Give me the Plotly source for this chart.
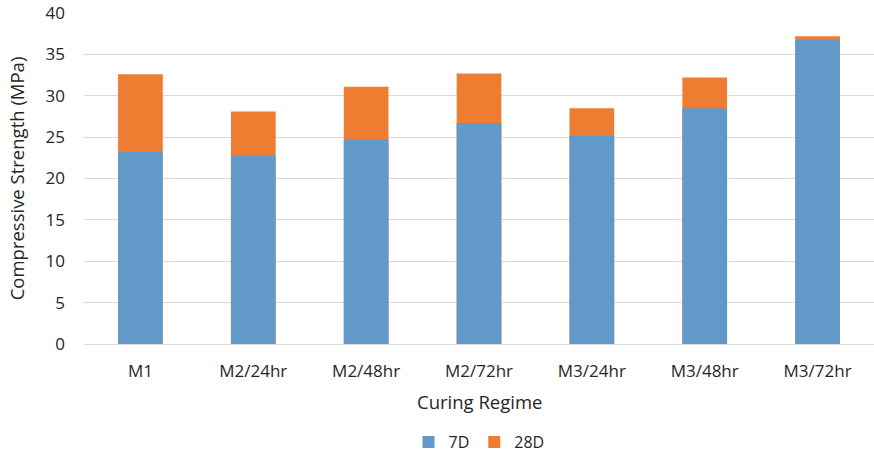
import plotly.graph_objects as go

categories = ["M1", "M2/24hr", "M2/48hr", "M2/72hr", "M3/24hr", "M3/48hr", "M3/72hr"]
strength_7d = [23.2, 22.8, 24.7, 26.7, 25.2, 28.5, 36.8]
strength_28d = [32.6, 28.1, 31.1, 32.7, 28.5, 32.2, 37.2]
y_ticks = [0, 5, 10, 15, 20, 25, 30, 35, 40]

FONT = "Open Sans"
fig = go.Figure()
fig.add_trace(go.Bar(x=categories, y=strength_28d, name="28D",
                     marker=dict(color="#ED7D31", line=dict(width=0))))
fig.add_trace(go.Bar(x=categories, y=strength_7d, name="7D",
                     marker=dict(color="#6299CB", line=dict(width=0))))

fig.update_layout(
    width=874, height=452,
    margin=dict(l=84, r=0, t=13, b=108, autoexpand=False),
    paper_bgcolor="white", plot_bgcolor="white",
    barmode="overlay", bargap=0.604,
    font=dict(family=FONT, size=16, color="#262626"),
    showlegend=True,
    legend=dict(orientation="h", traceorder="reversed", x=0.5, xanchor="center",
                y=-0.296, yanchor="middle", font=dict(size=16, color="#262626"),
                itemwidth=30, tracegroupgap=0),
    xaxis=dict(showgrid=False, showline=True, linecolor="#D9D9D9", linewidth=1,
               ticks="", ticklabelstandoff=12, tickfont=dict(size=17, color="#262626")),
    yaxis=dict(range=[0, 40], tickvals=y_ticks, showgrid=True, gridcolor="#D9D9D9",
               gridwidth=1, zeroline=False, showline=False, ticks="",
               ticklabelstandoff=18, tickfont=dict(size=17, color="#262626")),
    annotations=[
        dict(text="Curing Regime", xref="paper", yref="paper", x=0.5, y=-0.175,
             xanchor="center", yanchor="middle", showarrow=False,
             font=dict(size=18.5, color="#262626")),
        dict(text="Compressive Strength (MPa)", xref="paper", yref="paper",
             x=-0.085, y=0.5, xanchor="center", yanchor="middle", textangle=-90,
             showarrow=False, font=dict(size=18.5, color="#262626")),
    ],
)
fig.write_html("out.html")
